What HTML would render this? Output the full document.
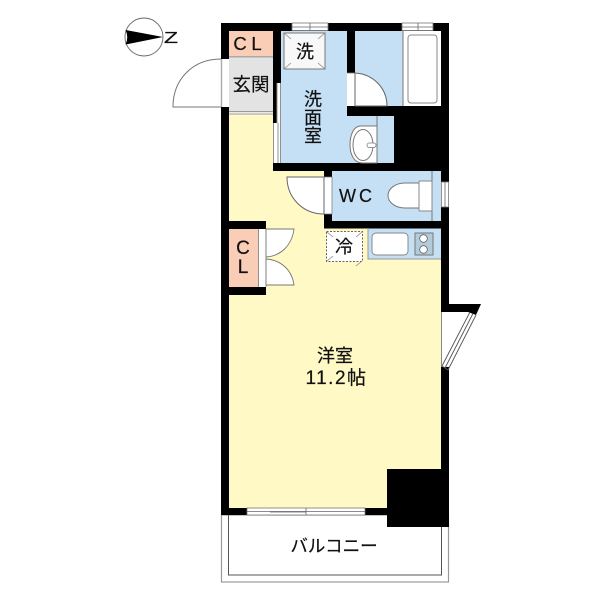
<!DOCTYPE html>
<html><head><meta charset="utf-8"><style>
html,body{margin:0;padding:0;background:#fff}
svg{display:block}
text{font-family:"Liberation Sans","Noto Sans CJK JP",sans-serif;fill:#111;stroke:#111;stroke-width:.2;text-anchor:middle}
</style></head><body>
<svg width="600" height="600" viewBox="0 0 600 600" xmlns="http://www.w3.org/2000/svg">
<!-- balcony -->
<rect x="221.5" y="515" width="227" height="67" fill="#fff" stroke="#999" stroke-width="1.2"/>
<path d="M228.5 515V575H441.5V520" fill="none" stroke="#555" stroke-width="1"/>
<!-- floors -->
<rect x="229" y="114" width="212" height="394" fill="#fff9c6"/>
<rect x="229" y="31" width="44" height="25" fill="#f9cdb6"/>
<rect x="229" y="56" width="44" height="56" fill="#e3e3e3"/>
<rect x="229" y="56" width="44" height="1.5" fill="#aaa"/>
<rect x="229" y="111" width="44" height="1.2" fill="#999"/>
<rect x="229" y="113.5" width="44" height="1" fill="#999"/>
<rect x="281" y="31" width="113" height="132" fill="#c5e0f4"/>
<rect x="355" y="31" width="48" height="75" fill="#c5e0f4"/>
<rect x="403" y="31" width="38" height="75" fill="#fff"/>
<rect x="332" y="171" width="109" height="50" fill="#c5e0f4"/>
<rect x="368" y="228" width="73" height="31" fill="#c5e0f4"/>
<rect x="229" y="229" width="29" height="58" fill="#f9cdb6"/>
<!-- walls -->
<g fill="#000">
<rect x="221" y="23" width="228" height="8"/>
<rect x="221" y="23" width="8" height="36"/>
<rect x="221" y="107" width="8" height="408"/>
<rect x="273" y="23" width="8" height="60"/>
<rect x="273" y="80" width="3.5" height="43"/>
<rect x="273" y="163" width="121" height="8"/>
<rect x="347" y="23" width="8" height="50"/>
<rect x="347" y="106" width="47" height="10"/>
<rect x="394" y="106" width="55" height="65"/>
<rect x="441" y="23" width="8" height="159"/>
<rect x="441" y="207" width="8" height="105"/>
<rect x="441" y="367" width="8" height="160"/>
<rect x="324" y="171" width="8" height="6"/>
<rect x="324" y="214" width="8" height="14"/>
<rect x="324" y="221" width="125" height="7.5"/>
<rect x="229" y="221" width="37" height="8"/>
<rect x="229" y="287" width="37" height="8"/>
<rect x="221" y="508" width="26" height="7"/>
<rect x="365" y="508" width="30" height="7"/>
<rect x="387" y="469" width="62" height="58"/>
<polygon points="449,304 481,304 476,315 468,312 449,312"/>
</g>
<!-- entry door -->
<rect x="221" y="59" width="8" height="48" fill="#fff"/>
<path d="M221.5 59V107M221 59C193 59 173 79 173 107H221" fill="none" stroke="#777" stroke-width="1"/>
<path d="M221.5 59V107" stroke="#aaa" stroke-width="1.4"/>
<!-- strip next to washroom -->
<rect x="276.5" y="83" width="4.5" height="40" fill="#fff"/>
<rect x="273" y="123" width="8" height="40" fill="#fff"/>
<path d="M277 83V123M273.500 123V163M280.500 83V163M278 123V163" stroke="#777" stroke-width=".8" fill="none"/>
<!-- windows -->
<g fill="#fff" stroke="#777" stroke-width=".8">
<rect x="292" y="23" width="36" height="7.5"/>
<rect x="402" y="23" width="31" height="7.5"/>
<rect x="247" y="508" width="118" height="7"/>
<rect x="441.5" y="182" width="7" height="25"/>
</g>
<path d="M292 27H328M310 23V30M402 27H433M418 23V30M247 511.5H365M306 508V515M270 512H306M445 182V207" stroke="#666" stroke-width=".8" fill="none"/>
<!-- washer -->
<rect x="284" y="33" width="41" height="36" fill="#f8f8f8" stroke="#777" stroke-width="1"/>
<path d="M284 33l7 6M325 33l-7 6M284 69l7-6M325 69l-7-6" stroke="#888" stroke-width=".8"/>
<!-- tub -->
<path d="M403 31V106" stroke="#777" stroke-width="1"/>
<rect x="408" y="35" width="29" height="68" rx="3" fill="#fff" stroke="#888" stroke-width="1"/>
<!-- bath door -->
<rect x="347" y="73" width="8" height="33" fill="#fff"/>
<path d="M355 106V73C373 74 387 88 387 106Z" fill="#fff" stroke="#666" stroke-width="1"/>
<path d="M347 73H355" stroke="#777" stroke-width=".8"/>
<!-- sink -->
<path d="M377 116V163" stroke="#777" stroke-width="1"/>
<path d="M377 126H361C353 126 350 136 350 145C350 154 354 163 362 163H377Z" fill="#fff" stroke="#777" stroke-width="1"/>
<ellipse cx="363" cy="145" rx="10" ry="15.5" fill="#fff" stroke="#777" stroke-width="1"/>
<rect x="367" y="143" width="9" height="4.5" rx="2.2" fill="#fff" stroke="#777" stroke-width=".8"/>
<!-- WC door -->
<rect x="324" y="177" width="8" height="37" fill="#fff"/>
<path d="M324 214C303 214 287 198 287 177H324Z" fill="#fff" stroke="#666" stroke-width="1"/>
<path d="M324 177H332V214H324" fill="none" stroke="#777" stroke-width=".7"/>
<!-- toilet -->
<path d="M432 171V221" stroke="#777" stroke-width="1"/>
<path d="M419 183H405C395 183 388 189 388 195.500C388 202 395 208 405 208H419Z" fill="#fff" stroke="#777" stroke-width="1"/>
<rect x="419" y="181" width="13" height="30" rx="1" fill="#fff" stroke="#888" stroke-width="1"/>
<!-- fridge -->
<rect x="326.500" y="231.500" width="36" height="30" fill="#fff" stroke="#666" stroke-width="1" stroke-dasharray="2 1.500"/>
<path d="M327 232l6 5M362 232l-6 5M327 261l6-5M362 261l-6 5" stroke="#888" stroke-width=".8"/>
<!-- kitchen -->
<path d="M368 228V259H441" fill="none" stroke="#999" stroke-width="1"/>
<rect x="372" y="233" width="36" height="22" rx="4" fill="#fff" stroke="#888" stroke-width="1"/>
<rect x="415" y="233" width="18" height="22" fill="#b4cbdc" stroke="#777" stroke-width="1"/>
<circle cx="423.500" cy="238.500" r="3.800" fill="#fff" stroke="#666" stroke-width=".8"/>
<circle cx="423.500" cy="249.500" r="3.800" fill="#fff" stroke="#666" stroke-width=".8"/>
<!-- closet doors -->
<rect x="258" y="229" width="8" height="58" fill="#fff"/>
<path d="M258.500 229V287M266 229V287" stroke="#777" stroke-width=".8"/>
<path d="M266 229H294C292 245 281 256 266 257Z" fill="#fff" stroke="#777" stroke-width=".9"/>
<path d="M266 259C281 260 292 270 294 285H266Z" fill="#fff" stroke="#777" stroke-width=".9"/>
<!-- bay window -->
<rect x="441" y="312" width="1" height="55" fill="#888"/>
<path d="M470 312L442 366M473 313.500L445 368M476 315L448 370M442 366L448 370" stroke="#555" stroke-width=".9" fill="none"/>
<!-- compass -->
<circle cx="144" cy="37" r="19" fill="#fff" stroke="#666" stroke-width=".9"/>
<path d="M125.500 30L163 37L125.500 44.500Q129 37 125.500 30Z" fill="#000"/>
<text transform="translate(171 43) scale(1.5 1)" x="0" y="0" font-size="15.500">Z</text>
<!-- labels -->
<text x="240" y="50" font-size="18.500">C</text>
<text x="256.500" y="50" font-size="18.500">L</text>
<text x="251" y="91" font-size="18.500">玄関</text>
<text x="305" y="58" font-size="18">洗</text>
<text x="313" y="105.500" font-size="18">洗</text>
<text x="313" y="124" font-size="18">面</text>
<text x="313" y="142" font-size="18">室</text>
<text x="347.500" y="202" font-size="18">W</text>
<text x="365.500" y="202" font-size="18">C</text>
<text x="344" y="253" font-size="18">冷</text>
<text x="243" y="254" font-size="19">C</text>
<text x="243" y="273" font-size="19">L</text>
<text x="335" y="362" font-size="18">洋室</text>
<text x="336.500" y="384" font-size="19" letter-spacing="1.500">11.2帖</text>
<text x="334" y="552" font-size="17.500">バルコニー</text>
</svg>
</body></html>
